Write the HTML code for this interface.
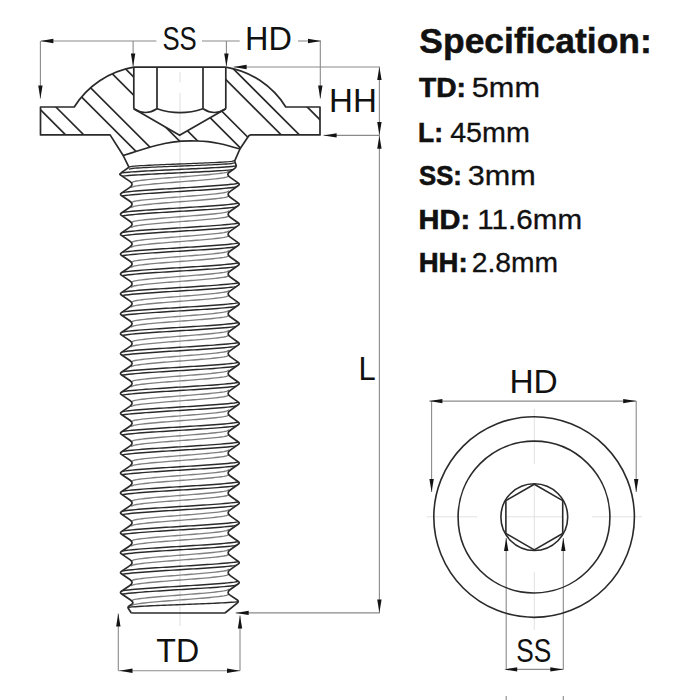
<!DOCTYPE html>
<html><head><meta charset="utf-8"><style>
html,body{margin:0;padding:0;background:#fff;}
body{width:700px;height:700px;overflow:hidden;font-family:"Liberation Sans",sans-serif;}
svg{display:block;}
</style></head><body>
<svg width="700" height="700" viewBox="0 0 700 700">
<rect width="700" height="700" fill="#fff"/>
<g stroke="#e2e2e2" stroke-width="1" fill="none">
<path d="M180,72 V82.5 M180,93 V626" stroke="#dedede"/>
<path d="M534.3,409 V464 M534.3,486 V550 M534.3,572 V630 M427,516.8 H477 M507,516.8 H562 M592,516.8 H642"/>
</g>
<defs><clipPath id="hc"><path clip-rule="evenodd" d="M40.5,107 L74.2,107 A88.2,88.2 0 0 1 133.7,67.1 L225.8,67.1 A87,87 0 0 1 285.8,107  L320,107 L320,134.9 L250.6,134.9 Q248.5,135.2 247.6,137.6 L239.9,149 C238.27,148.53 233.58,147.12 230.1,146.2 C226.62,145.28 222.7,144.27 219,143.5 C215.3,142.73 211.62,142.02 207.9,141.6 C204.18,141.18 201.45,141.05 196.7,141 C191.95,140.95 184.75,140.88 179.4,141.3 C174.05,141.72 169.55,142.52 164.6,143.5 C159.65,144.48 154.5,145.87 149.7,147.2 C144.9,148.53 140.22,150.12 135.8,151.5 C131.38,152.88 125.3,154.83 123.2,155.5 L110.1,134.9 L40.5,134.9 Z M133.8,67.1 L133.8,108.8 L179.6,135.3 L225.8,108.8 L225.8,67.1 Z"/></clipPath></defs>
<path clip-path="url(#hc)" d="M20,89.3 L340,409.3 M20,71.1 L340,391.1 M20,35.4 L340,355.4 M20,17.2 L340,337.2 M20,-18.5 L340,301.5 M20,-36.7 L340,283.3 M20,-72.4 L340,247.6 M20,-90.6 L340,229.4 M20,-126.3 L340,193.7 M20,-144.5 L340,175.5 M20,-180.2 L340,139.8 M20,-198.4 L340,121.6 M20,-234.1 L340,85.9 M20,-252.3 L340,67.7" stroke="#2a2a2a" stroke-width="1.7" fill="none"/>
<g stroke="#2a2a2a" stroke-width="1.7" fill="none" stroke-linejoin="round">
<path d="M40.5,107 L74.2,107 A88.2,88.2 0 0 1 133.7,67.1 L225.8,67.1 A87,87 0 0 1 285.8,107  L320,107 L320,134.9 L250.6,134.9 Q248.5,135.2 247.6,137.6 L239.9,149 C238.27,148.53 233.58,147.12 230.1,146.2 C226.62,145.28 222.7,144.27 219,143.5 C215.3,142.73 211.62,142.02 207.9,141.6 C204.18,141.18 201.45,141.05 196.7,141 C191.95,140.95 184.75,140.88 179.4,141.3 C174.05,141.72 169.55,142.52 164.6,143.5 C159.65,144.48 154.5,145.87 149.7,147.2 C144.9,148.53 140.22,150.12 135.8,151.5 C131.38,152.88 125.3,154.83 123.2,155.5 L110.1,134.9 L40.5,134.9 Z"/>
<path d="M133.8,67.1 L133.8,108.8 M225.8,67.1 L225.8,108.8 M157,67.1 L157,108.8 M203,67.1 L203,108.8"/>
<path d="M133.8,108.8 Q145.4,116.2 157,108.8 Q180,116.6 203,108.8 Q214.4,116.2 225.8,108.8"/>
<path d="M133.8,108.8 L179.6,135.3 L225.8,108.8"/>
<path d="M123.2,155.5 L129,167.3 M239.9,149 L234.6,161.1"/>
</g>
<defs><clipPath id="tc"><path d="M129,167.3 L123.82,170.87 Q121.6,172.4 121,173 L119.84,174.16 Q119.6,174.4 121.36,175.59 L129.89,181.37 Q134.3,184.36 129.89,187.34 L121.36,193.12 Q119.6,194.31 121.36,195.5 L129.89,201.28 Q134.3,204.27 129.89,207.25 L121.36,213.03 Q119.6,214.22 121.36,215.41 L129.89,221.19 Q134.3,224.18 129.89,227.16 L121.36,232.94 Q119.6,234.13 121.36,235.32 L129.89,241.1 Q134.3,244.09 129.89,247.07 L121.36,252.85 Q119.6,254.04 121.36,255.23 L129.89,261.01 Q134.3,264 129.89,266.98 L121.36,272.76 Q119.6,273.95 121.36,275.14 L129.89,280.92 Q134.3,283.9 129.89,286.89 L121.36,292.67 Q119.6,293.86 121.36,295.05 L129.89,300.83 Q134.3,303.81 129.89,306.8 L121.36,312.58 Q119.6,313.77 121.36,314.96 L129.89,320.74 Q134.3,323.72 129.89,326.71 L121.36,332.49 Q119.6,333.68 121.36,334.87 L129.89,340.65 Q134.3,343.63 129.89,346.62 L121.36,352.4 Q119.6,353.59 121.36,354.78 L129.89,360.56 Q134.3,363.55 129.89,366.53 L121.36,372.31 Q119.6,373.5 121.36,374.69 L129.89,380.47 Q134.3,383.45 129.89,386.44 L121.36,392.22 Q119.6,393.41 121.36,394.6 L129.89,400.38 Q134.3,403.36 129.89,406.35 L121.36,412.13 Q119.6,413.32 121.36,414.51 L129.89,420.29 Q134.3,423.28 129.89,426.26 L121.36,432.04 Q119.6,433.23 121.36,434.42 L129.89,440.2 Q134.3,443.19 129.89,446.17 L121.36,451.95 Q119.6,453.14 121.36,454.33 L129.89,460.11 Q134.3,463.09 129.89,466.08 L121.36,471.86 Q119.6,473.05 121.36,474.24 L129.89,480.02 Q134.3,483 129.89,485.99 L121.36,491.77 Q119.6,492.96 121.36,494.15 L129.89,499.93 Q134.3,502.92 129.89,505.9 L121.36,511.68 Q119.6,512.87 121.36,514.06 L129.89,519.84 Q134.3,522.83 129.89,525.81 L121.36,531.59 Q119.6,532.78 121.36,533.97 L129.89,539.75 Q134.3,542.74 129.89,545.72 L121.36,551.5 Q119.6,552.69 121.36,553.88 L129.89,559.66 Q134.3,562.65 129.89,565.63 L121.36,571.41 Q119.6,572.6 121.36,573.79 L129.89,579.57 Q134.3,582.56 129.89,585.54 L121.36,591.32 Q119.6,592.51 121.36,593.7 L129.89,599.48 Q134.3,602.47 132.23,603.86 L129.12,605.94 Q127.4,607.1 128.38,608.58 L131.3,613 L225,613 L237.16,603.05 Q239.3,601.3 237.31,599.98 L229.99,595.15 Q226,592.51 230.23,589.52 L238.41,583.75 Q240.1,582.56 238.41,581.36 L230.23,575.59 Q226,572.6 230.23,569.61 L238.41,563.84 Q240.1,562.65 238.41,561.45 L230.23,555.68 Q226,552.69 230.23,549.7 L238.41,543.93 Q240.1,542.74 238.41,541.54 L230.23,535.77 Q226,532.78 230.23,529.79 L238.41,524.02 Q240.1,522.83 238.41,521.63 L230.23,515.86 Q226,512.87 230.23,509.88 L238.41,504.11 Q240.1,502.92 238.41,501.72 L230.23,495.95 Q226,492.96 230.23,489.97 L238.41,484.2 Q240.1,483 238.41,481.81 L230.23,476.04 Q226,473.05 230.23,470.06 L238.41,464.29 Q240.1,463.09 238.41,461.9 L230.23,456.13 Q226,453.14 230.23,450.15 L238.41,444.38 Q240.1,443.19 238.41,441.99 L230.23,436.22 Q226,433.23 230.23,430.24 L238.41,424.47 Q240.1,423.28 238.41,422.08 L230.23,416.31 Q226,413.32 230.23,410.33 L238.41,404.56 Q240.1,403.36 238.41,402.17 L230.23,396.4 Q226,393.41 230.23,390.42 L238.41,384.65 Q240.1,383.45 238.41,382.26 L230.23,376.49 Q226,373.5 230.23,370.51 L238.41,364.74 Q240.1,363.55 238.41,362.35 L230.23,356.58 Q226,353.59 230.23,350.6 L238.41,344.83 Q240.1,343.63 238.41,342.44 L230.23,336.67 Q226,333.68 230.23,330.69 L238.41,324.92 Q240.1,323.72 238.41,322.53 L230.23,316.76 Q226,313.77 230.23,310.78 L238.41,305.01 Q240.1,303.81 238.41,302.62 L230.23,296.85 Q226,293.86 230.23,290.87 L238.41,285.1 Q240.1,283.9 238.41,282.71 L230.23,276.94 Q226,273.95 230.23,270.96 L238.41,265.19 Q240.1,264 238.41,262.8 L230.23,257.03 Q226,254.04 230.23,251.05 L238.41,245.28 Q240.1,244.09 238.41,242.89 L230.23,237.12 Q226,234.13 230.23,231.14 L238.41,225.37 Q240.1,224.18 238.41,222.98 L230.23,217.21 Q226,214.22 230.23,211.23 L238.41,205.46 Q240.1,204.27 238.41,203.07 L230.23,197.3 Q226,194.31 230.23,191.32 L238.41,185.55 Q240.1,184.36 238.41,183.16 L230.23,177.39 Q226,174.4 229.24,172.21 L233.56,169.29 Q236.8,167.1 236.14,165.3 L234.6,161.1 Z"/></clipPath></defs>
<g clip-path="url(#tc)">
<path d="M131.03,182.83 L133.76,181.57 L136.48,181.04 L139.21,180.63 L141.94,180.27 L144.67,179.96 L147.4,179.67 L150.13,179.4 L152.86,179.14 L155.59,178.89 L158.32,178.66 L161.05,178.43 L163.78,178.2 L166.5,177.98 L169.23,177.77 L171.96,177.56 L174.69,177.35 L177.42,177.14 L180.15,176.93 L182.88,176.72 L185.61,176.51 L188.34,176.3 L191.07,176.09 L193.8,175.87 L196.52,175.65 L199.25,175.43 L201.98,175.2 L204.71,174.96 L207.44,174.72 L210.17,174.46 L212.9,174.19 L215.63,173.9 L218.36,173.58 L221.09,173.23 L223.82,172.82 L226.54,172.29 L229.27,171.03 M131.03,187.73 L133.76,186.47 L136.48,185.94 L139.21,185.53 L141.94,185.17 L144.67,184.86 L147.4,184.57 L150.13,184.3 L152.86,184.04 L155.59,183.79 L158.32,183.56 L161.05,183.33 L163.78,183.1 L166.5,182.88 L169.23,182.67 L171.96,182.46 L174.69,182.25 L177.42,182.04 L180.15,181.83 L182.88,181.62 L185.61,181.41 L188.34,181.2 L191.07,180.99 L193.8,180.77 L196.52,180.55 L199.25,180.33 L201.98,180.1 L204.71,179.86 L207.44,179.62 L210.17,179.36 L212.9,179.09 L215.63,178.8 L218.36,178.48 L221.09,178.13 L223.82,177.72 L226.54,177.19 L229.27,175.93 M131.03,202.74 L133.76,201.48 L136.48,200.95 L139.21,200.54 L141.94,200.18 L144.67,199.87 L147.4,199.58 L150.13,199.31 L152.86,199.05 L155.59,198.8 L158.32,198.57 L161.05,198.34 L163.78,198.11 L166.5,197.89 L169.23,197.68 L171.96,197.47 L174.69,197.26 L177.42,197.05 L180.15,196.84 L182.88,196.63 L185.61,196.42 L188.34,196.21 L191.07,196 L193.8,195.78 L196.52,195.56 L199.25,195.34 L201.98,195.11 L204.71,194.87 L207.44,194.63 L210.17,194.37 L212.9,194.1 L215.63,193.81 L218.36,193.49 L221.09,193.14 L223.82,192.73 L226.54,192.2 L229.27,190.94 M131.03,207.64 L133.76,206.38 L136.48,205.85 L139.21,205.44 L141.94,205.08 L144.67,204.77 L147.4,204.48 L150.13,204.21 L152.86,203.95 L155.59,203.7 L158.32,203.47 L161.05,203.24 L163.78,203.01 L166.5,202.79 L169.23,202.58 L171.96,202.37 L174.69,202.16 L177.42,201.95 L180.15,201.74 L182.88,201.53 L185.61,201.32 L188.34,201.11 L191.07,200.9 L193.8,200.68 L196.52,200.46 L199.25,200.24 L201.98,200.01 L204.71,199.77 L207.44,199.53 L210.17,199.27 L212.9,199 L215.63,198.71 L218.36,198.39 L221.09,198.04 L223.82,197.63 L226.54,197.1 L229.27,195.84 M131.03,222.65 L133.76,221.39 L136.48,220.86 L139.21,220.45 L141.94,220.09 L144.67,219.78 L147.4,219.49 L150.13,219.22 L152.86,218.96 L155.59,218.71 L158.32,218.48 L161.05,218.25 L163.78,218.02 L166.5,217.8 L169.23,217.59 L171.96,217.38 L174.69,217.17 L177.42,216.96 L180.15,216.75 L182.88,216.54 L185.61,216.33 L188.34,216.12 L191.07,215.91 L193.8,215.69 L196.52,215.47 L199.25,215.25 L201.98,215.02 L204.71,214.78 L207.44,214.54 L210.17,214.28 L212.9,214.01 L215.63,213.72 L218.36,213.4 L221.09,213.05 L223.82,212.64 L226.54,212.11 L229.27,210.85 M131.03,227.55 L133.76,226.29 L136.48,225.76 L139.21,225.35 L141.94,224.99 L144.67,224.68 L147.4,224.39 L150.13,224.12 L152.86,223.86 L155.59,223.61 L158.32,223.38 L161.05,223.15 L163.78,222.92 L166.5,222.7 L169.23,222.49 L171.96,222.28 L174.69,222.07 L177.42,221.86 L180.15,221.65 L182.88,221.44 L185.61,221.23 L188.34,221.02 L191.07,220.81 L193.8,220.59 L196.52,220.37 L199.25,220.15 L201.98,219.92 L204.71,219.68 L207.44,219.44 L210.17,219.18 L212.9,218.91 L215.63,218.62 L218.36,218.3 L221.09,217.95 L223.82,217.54 L226.54,217.01 L229.27,215.75 M131.03,242.56 L133.76,241.3 L136.48,240.77 L139.21,240.36 L141.94,240 L144.67,239.69 L147.4,239.4 L150.13,239.13 L152.86,238.87 L155.59,238.62 L158.32,238.39 L161.05,238.16 L163.78,237.93 L166.5,237.71 L169.23,237.5 L171.96,237.29 L174.69,237.08 L177.42,236.87 L180.15,236.66 L182.88,236.45 L185.61,236.24 L188.34,236.03 L191.07,235.82 L193.8,235.6 L196.52,235.38 L199.25,235.16 L201.98,234.93 L204.71,234.69 L207.44,234.45 L210.17,234.19 L212.9,233.92 L215.63,233.63 L218.36,233.31 L221.09,232.96 L223.82,232.55 L226.54,232.02 L229.27,230.76 M131.03,247.46 L133.76,246.2 L136.48,245.67 L139.21,245.26 L141.94,244.9 L144.67,244.59 L147.4,244.3 L150.13,244.03 L152.86,243.77 L155.59,243.52 L158.32,243.29 L161.05,243.06 L163.78,242.83 L166.5,242.61 L169.23,242.4 L171.96,242.19 L174.69,241.98 L177.42,241.77 L180.15,241.56 L182.88,241.35 L185.61,241.14 L188.34,240.93 L191.07,240.72 L193.8,240.5 L196.52,240.28 L199.25,240.06 L201.98,239.83 L204.71,239.59 L207.44,239.35 L210.17,239.09 L212.9,238.82 L215.63,238.53 L218.36,238.21 L221.09,237.86 L223.82,237.45 L226.54,236.92 L229.27,235.66 M131.03,262.47 L133.76,261.21 L136.48,260.68 L139.21,260.27 L141.94,259.91 L144.67,259.6 L147.4,259.31 L150.13,259.04 L152.86,258.78 L155.59,258.53 L158.32,258.3 L161.05,258.07 L163.78,257.84 L166.5,257.62 L169.23,257.41 L171.96,257.2 L174.69,256.99 L177.42,256.78 L180.15,256.57 L182.88,256.36 L185.61,256.15 L188.34,255.94 L191.07,255.73 L193.8,255.51 L196.52,255.29 L199.25,255.07 L201.98,254.84 L204.71,254.6 L207.44,254.36 L210.17,254.1 L212.9,253.83 L215.63,253.54 L218.36,253.22 L221.09,252.87 L223.82,252.46 L226.54,251.93 L229.27,250.67 M131.03,267.37 L133.76,266.11 L136.48,265.58 L139.21,265.17 L141.94,264.81 L144.67,264.5 L147.4,264.21 L150.13,263.94 L152.86,263.68 L155.59,263.43 L158.32,263.2 L161.05,262.97 L163.78,262.74 L166.5,262.52 L169.23,262.31 L171.96,262.1 L174.69,261.89 L177.42,261.68 L180.15,261.47 L182.88,261.26 L185.61,261.05 L188.34,260.84 L191.07,260.63 L193.8,260.41 L196.52,260.19 L199.25,259.97 L201.98,259.74 L204.71,259.5 L207.44,259.26 L210.17,259 L212.9,258.73 L215.63,258.44 L218.36,258.12 L221.09,257.77 L223.82,257.36 L226.54,256.83 L229.27,255.57 M131.03,282.38 L133.76,281.12 L136.48,280.59 L139.21,280.18 L141.94,279.82 L144.67,279.51 L147.4,279.22 L150.13,278.95 L152.86,278.69 L155.59,278.44 L158.32,278.21 L161.05,277.98 L163.78,277.75 L166.5,277.53 L169.23,277.32 L171.96,277.11 L174.69,276.9 L177.42,276.69 L180.15,276.48 L182.88,276.27 L185.61,276.06 L188.34,275.85 L191.07,275.64 L193.8,275.42 L196.52,275.2 L199.25,274.98 L201.98,274.75 L204.71,274.51 L207.44,274.27 L210.17,274.01 L212.9,273.74 L215.63,273.45 L218.36,273.13 L221.09,272.78 L223.82,272.37 L226.54,271.84 L229.27,270.58 M131.03,287.28 L133.76,286.02 L136.48,285.49 L139.21,285.08 L141.94,284.72 L144.67,284.41 L147.4,284.12 L150.13,283.85 L152.86,283.59 L155.59,283.34 L158.32,283.11 L161.05,282.88 L163.78,282.65 L166.5,282.43 L169.23,282.22 L171.96,282.01 L174.69,281.8 L177.42,281.59 L180.15,281.38 L182.88,281.17 L185.61,280.96 L188.34,280.75 L191.07,280.54 L193.8,280.32 L196.52,280.1 L199.25,279.88 L201.98,279.65 L204.71,279.41 L207.44,279.17 L210.17,278.91 L212.9,278.64 L215.63,278.35 L218.36,278.03 L221.09,277.68 L223.82,277.27 L226.54,276.74 L229.27,275.48 M131.03,302.29 L133.76,301.03 L136.48,300.5 L139.21,300.09 L141.94,299.73 L144.67,299.42 L147.4,299.13 L150.13,298.86 L152.86,298.6 L155.59,298.35 L158.32,298.12 L161.05,297.89 L163.78,297.66 L166.5,297.44 L169.23,297.23 L171.96,297.02 L174.69,296.81 L177.42,296.6 L180.15,296.39 L182.88,296.18 L185.61,295.97 L188.34,295.76 L191.07,295.55 L193.8,295.33 L196.52,295.11 L199.25,294.89 L201.98,294.66 L204.71,294.42 L207.44,294.18 L210.17,293.92 L212.9,293.65 L215.63,293.36 L218.36,293.04 L221.09,292.69 L223.82,292.28 L226.54,291.75 L229.27,290.49 M131.03,307.19 L133.76,305.93 L136.48,305.4 L139.21,304.99 L141.94,304.63 L144.67,304.32 L147.4,304.03 L150.13,303.76 L152.86,303.5 L155.59,303.25 L158.32,303.02 L161.05,302.79 L163.78,302.56 L166.5,302.34 L169.23,302.13 L171.96,301.92 L174.69,301.71 L177.42,301.5 L180.15,301.29 L182.88,301.08 L185.61,300.87 L188.34,300.66 L191.07,300.45 L193.8,300.23 L196.52,300.01 L199.25,299.79 L201.98,299.56 L204.71,299.32 L207.44,299.08 L210.17,298.82 L212.9,298.55 L215.63,298.26 L218.36,297.94 L221.09,297.59 L223.82,297.18 L226.54,296.65 L229.27,295.39 M131.03,322.2 L133.76,320.94 L136.48,320.41 L139.21,320 L141.94,319.64 L144.67,319.33 L147.4,319.04 L150.13,318.77 L152.86,318.51 L155.59,318.26 L158.32,318.03 L161.05,317.8 L163.78,317.57 L166.5,317.35 L169.23,317.14 L171.96,316.93 L174.69,316.72 L177.42,316.51 L180.15,316.3 L182.88,316.09 L185.61,315.88 L188.34,315.67 L191.07,315.46 L193.8,315.24 L196.52,315.02 L199.25,314.8 L201.98,314.57 L204.71,314.33 L207.44,314.09 L210.17,313.83 L212.9,313.56 L215.63,313.27 L218.36,312.95 L221.09,312.6 L223.82,312.19 L226.54,311.66 L229.27,310.4 M131.03,327.1 L133.76,325.84 L136.48,325.31 L139.21,324.9 L141.94,324.54 L144.67,324.23 L147.4,323.94 L150.13,323.67 L152.86,323.41 L155.59,323.16 L158.32,322.93 L161.05,322.7 L163.78,322.47 L166.5,322.25 L169.23,322.04 L171.96,321.83 L174.69,321.62 L177.42,321.41 L180.15,321.2 L182.88,320.99 L185.61,320.78 L188.34,320.57 L191.07,320.36 L193.8,320.14 L196.52,319.92 L199.25,319.7 L201.98,319.47 L204.71,319.23 L207.44,318.99 L210.17,318.73 L212.9,318.46 L215.63,318.17 L218.36,317.85 L221.09,317.5 L223.82,317.09 L226.54,316.56 L229.27,315.3 M131.03,342.11 L133.76,340.85 L136.48,340.32 L139.21,339.91 L141.94,339.55 L144.67,339.24 L147.4,338.95 L150.13,338.68 L152.86,338.42 L155.59,338.17 L158.32,337.94 L161.05,337.71 L163.78,337.48 L166.5,337.26 L169.23,337.05 L171.96,336.84 L174.69,336.63 L177.42,336.42 L180.15,336.21 L182.88,336 L185.61,335.79 L188.34,335.58 L191.07,335.37 L193.8,335.15 L196.52,334.93 L199.25,334.71 L201.98,334.48 L204.71,334.24 L207.44,334 L210.17,333.74 L212.9,333.47 L215.63,333.18 L218.36,332.86 L221.09,332.51 L223.82,332.1 L226.54,331.57 L229.27,330.31 M131.03,347.01 L133.76,345.75 L136.48,345.22 L139.21,344.81 L141.94,344.45 L144.67,344.14 L147.4,343.85 L150.13,343.58 L152.86,343.32 L155.59,343.07 L158.32,342.84 L161.05,342.61 L163.78,342.38 L166.5,342.16 L169.23,341.95 L171.96,341.74 L174.69,341.53 L177.42,341.32 L180.15,341.11 L182.88,340.9 L185.61,340.69 L188.34,340.48 L191.07,340.27 L193.8,340.05 L196.52,339.83 L199.25,339.61 L201.98,339.38 L204.71,339.14 L207.44,338.9 L210.17,338.64 L212.9,338.37 L215.63,338.08 L218.36,337.76 L221.09,337.41 L223.82,337 L226.54,336.47 L229.27,335.21 M131.03,362.02 L133.76,360.76 L136.48,360.23 L139.21,359.82 L141.94,359.46 L144.67,359.15 L147.4,358.86 L150.13,358.59 L152.86,358.33 L155.59,358.08 L158.32,357.85 L161.05,357.62 L163.78,357.39 L166.5,357.17 L169.23,356.96 L171.96,356.75 L174.69,356.54 L177.42,356.33 L180.15,356.12 L182.88,355.91 L185.61,355.7 L188.34,355.49 L191.07,355.28 L193.8,355.06 L196.52,354.84 L199.25,354.62 L201.98,354.39 L204.71,354.15 L207.44,353.91 L210.17,353.65 L212.9,353.38 L215.63,353.09 L218.36,352.77 L221.09,352.42 L223.82,352.01 L226.54,351.48 L229.27,350.22 M131.03,366.92 L133.76,365.66 L136.48,365.13 L139.21,364.72 L141.94,364.36 L144.67,364.05 L147.4,363.76 L150.13,363.49 L152.86,363.23 L155.59,362.98 L158.32,362.75 L161.05,362.52 L163.78,362.29 L166.5,362.07 L169.23,361.86 L171.96,361.65 L174.69,361.44 L177.42,361.23 L180.15,361.02 L182.88,360.81 L185.61,360.6 L188.34,360.39 L191.07,360.18 L193.8,359.96 L196.52,359.74 L199.25,359.52 L201.98,359.29 L204.71,359.05 L207.44,358.81 L210.17,358.55 L212.9,358.28 L215.63,357.99 L218.36,357.67 L221.09,357.32 L223.82,356.91 L226.54,356.38 L229.27,355.12 M131.03,381.93 L133.76,380.67 L136.48,380.14 L139.21,379.73 L141.94,379.37 L144.67,379.06 L147.4,378.77 L150.13,378.5 L152.86,378.24 L155.59,377.99 L158.32,377.76 L161.05,377.53 L163.78,377.3 L166.5,377.08 L169.23,376.87 L171.96,376.66 L174.69,376.45 L177.42,376.24 L180.15,376.03 L182.88,375.82 L185.61,375.61 L188.34,375.4 L191.07,375.19 L193.8,374.97 L196.52,374.75 L199.25,374.53 L201.98,374.3 L204.71,374.06 L207.44,373.82 L210.17,373.56 L212.9,373.29 L215.63,373 L218.36,372.68 L221.09,372.33 L223.82,371.92 L226.54,371.39 L229.27,370.13 M131.03,386.83 L133.76,385.57 L136.48,385.04 L139.21,384.63 L141.94,384.27 L144.67,383.96 L147.4,383.67 L150.13,383.4 L152.86,383.14 L155.59,382.89 L158.32,382.66 L161.05,382.43 L163.78,382.2 L166.5,381.98 L169.23,381.77 L171.96,381.56 L174.69,381.35 L177.42,381.14 L180.15,380.93 L182.88,380.72 L185.61,380.51 L188.34,380.3 L191.07,380.09 L193.8,379.87 L196.52,379.65 L199.25,379.43 L201.98,379.2 L204.71,378.96 L207.44,378.72 L210.17,378.46 L212.9,378.19 L215.63,377.9 L218.36,377.58 L221.09,377.23 L223.82,376.82 L226.54,376.29 L229.27,375.03 M131.03,401.84 L133.76,400.58 L136.48,400.05 L139.21,399.64 L141.94,399.28 L144.67,398.97 L147.4,398.68 L150.13,398.41 L152.86,398.15 L155.59,397.9 L158.32,397.67 L161.05,397.44 L163.78,397.21 L166.5,396.99 L169.23,396.78 L171.96,396.57 L174.69,396.36 L177.42,396.15 L180.15,395.94 L182.88,395.73 L185.61,395.52 L188.34,395.31 L191.07,395.1 L193.8,394.88 L196.52,394.66 L199.25,394.44 L201.98,394.21 L204.71,393.97 L207.44,393.73 L210.17,393.47 L212.9,393.2 L215.63,392.91 L218.36,392.59 L221.09,392.24 L223.82,391.83 L226.54,391.3 L229.27,390.04 M131.03,406.74 L133.76,405.48 L136.48,404.95 L139.21,404.54 L141.94,404.18 L144.67,403.87 L147.4,403.58 L150.13,403.31 L152.86,403.05 L155.59,402.8 L158.32,402.57 L161.05,402.34 L163.78,402.11 L166.5,401.89 L169.23,401.68 L171.96,401.47 L174.69,401.26 L177.42,401.05 L180.15,400.84 L182.88,400.63 L185.61,400.42 L188.34,400.21 L191.07,400 L193.8,399.78 L196.52,399.56 L199.25,399.34 L201.98,399.11 L204.71,398.87 L207.44,398.63 L210.17,398.37 L212.9,398.1 L215.63,397.81 L218.36,397.49 L221.09,397.14 L223.82,396.73 L226.54,396.2 L229.27,394.94 M131.03,421.75 L133.76,420.49 L136.48,419.96 L139.21,419.55 L141.94,419.19 L144.67,418.88 L147.4,418.59 L150.13,418.32 L152.86,418.06 L155.59,417.81 L158.32,417.58 L161.05,417.35 L163.78,417.12 L166.5,416.9 L169.23,416.69 L171.96,416.48 L174.69,416.27 L177.42,416.06 L180.15,415.85 L182.88,415.64 L185.61,415.43 L188.34,415.22 L191.07,415.01 L193.8,414.79 L196.52,414.57 L199.25,414.35 L201.98,414.12 L204.71,413.88 L207.44,413.64 L210.17,413.38 L212.9,413.11 L215.63,412.82 L218.36,412.5 L221.09,412.15 L223.82,411.74 L226.54,411.21 L229.27,409.95 M131.03,426.65 L133.76,425.39 L136.48,424.86 L139.21,424.45 L141.94,424.09 L144.67,423.78 L147.4,423.49 L150.13,423.22 L152.86,422.96 L155.59,422.71 L158.32,422.48 L161.05,422.25 L163.78,422.02 L166.5,421.8 L169.23,421.59 L171.96,421.38 L174.69,421.17 L177.42,420.96 L180.15,420.75 L182.88,420.54 L185.61,420.33 L188.34,420.12 L191.07,419.91 L193.8,419.69 L196.52,419.47 L199.25,419.25 L201.98,419.02 L204.71,418.78 L207.44,418.54 L210.17,418.28 L212.9,418.01 L215.63,417.72 L218.36,417.4 L221.09,417.05 L223.82,416.64 L226.54,416.11 L229.27,414.85 M131.03,441.66 L133.76,440.4 L136.48,439.87 L139.21,439.46 L141.94,439.1 L144.67,438.79 L147.4,438.5 L150.13,438.23 L152.86,437.97 L155.59,437.72 L158.32,437.49 L161.05,437.26 L163.78,437.03 L166.5,436.81 L169.23,436.6 L171.96,436.39 L174.69,436.18 L177.42,435.97 L180.15,435.76 L182.88,435.55 L185.61,435.34 L188.34,435.13 L191.07,434.92 L193.8,434.7 L196.52,434.48 L199.25,434.26 L201.98,434.03 L204.71,433.79 L207.44,433.55 L210.17,433.29 L212.9,433.02 L215.63,432.73 L218.36,432.41 L221.09,432.06 L223.82,431.65 L226.54,431.12 L229.27,429.86 M131.03,446.56 L133.76,445.3 L136.48,444.77 L139.21,444.36 L141.94,444 L144.67,443.69 L147.4,443.4 L150.13,443.13 L152.86,442.87 L155.59,442.62 L158.32,442.39 L161.05,442.16 L163.78,441.93 L166.5,441.71 L169.23,441.5 L171.96,441.29 L174.69,441.08 L177.42,440.87 L180.15,440.66 L182.88,440.45 L185.61,440.24 L188.34,440.03 L191.07,439.82 L193.8,439.6 L196.52,439.38 L199.25,439.16 L201.98,438.93 L204.71,438.69 L207.44,438.45 L210.17,438.19 L212.9,437.92 L215.63,437.63 L218.36,437.31 L221.09,436.96 L223.82,436.55 L226.54,436.02 L229.27,434.76 M131.03,461.57 L133.76,460.31 L136.48,459.78 L139.21,459.37 L141.94,459.01 L144.67,458.7 L147.4,458.41 L150.13,458.14 L152.86,457.88 L155.59,457.63 L158.32,457.4 L161.05,457.17 L163.78,456.94 L166.5,456.72 L169.23,456.51 L171.96,456.3 L174.69,456.09 L177.42,455.88 L180.15,455.67 L182.88,455.46 L185.61,455.25 L188.34,455.04 L191.07,454.83 L193.8,454.61 L196.52,454.39 L199.25,454.17 L201.98,453.94 L204.71,453.7 L207.44,453.46 L210.17,453.2 L212.9,452.93 L215.63,452.64 L218.36,452.32 L221.09,451.97 L223.82,451.56 L226.54,451.03 L229.27,449.77 M131.03,466.47 L133.76,465.21 L136.48,464.68 L139.21,464.27 L141.94,463.91 L144.67,463.6 L147.4,463.31 L150.13,463.04 L152.86,462.78 L155.59,462.53 L158.32,462.3 L161.05,462.07 L163.78,461.84 L166.5,461.62 L169.23,461.41 L171.96,461.2 L174.69,460.99 L177.42,460.78 L180.15,460.57 L182.88,460.36 L185.61,460.15 L188.34,459.94 L191.07,459.73 L193.8,459.51 L196.52,459.29 L199.25,459.07 L201.98,458.84 L204.71,458.6 L207.44,458.36 L210.17,458.1 L212.9,457.83 L215.63,457.54 L218.36,457.22 L221.09,456.87 L223.82,456.46 L226.54,455.93 L229.27,454.67 M131.03,481.48 L133.76,480.22 L136.48,479.69 L139.21,479.28 L141.94,478.92 L144.67,478.61 L147.4,478.32 L150.13,478.05 L152.86,477.79 L155.59,477.54 L158.32,477.31 L161.05,477.08 L163.78,476.85 L166.5,476.63 L169.23,476.42 L171.96,476.21 L174.69,476 L177.42,475.79 L180.15,475.58 L182.88,475.37 L185.61,475.16 L188.34,474.95 L191.07,474.74 L193.8,474.52 L196.52,474.3 L199.25,474.08 L201.98,473.85 L204.71,473.61 L207.44,473.37 L210.17,473.11 L212.9,472.84 L215.63,472.55 L218.36,472.23 L221.09,471.88 L223.82,471.47 L226.54,470.94 L229.27,469.68 M131.03,486.38 L133.76,485.12 L136.48,484.59 L139.21,484.18 L141.94,483.82 L144.67,483.51 L147.4,483.22 L150.13,482.95 L152.86,482.69 L155.59,482.44 L158.32,482.21 L161.05,481.98 L163.78,481.75 L166.5,481.53 L169.23,481.32 L171.96,481.11 L174.69,480.9 L177.42,480.69 L180.15,480.48 L182.88,480.27 L185.61,480.06 L188.34,479.85 L191.07,479.64 L193.8,479.42 L196.52,479.2 L199.25,478.98 L201.98,478.75 L204.71,478.51 L207.44,478.27 L210.17,478.01 L212.9,477.74 L215.63,477.45 L218.36,477.13 L221.09,476.78 L223.82,476.37 L226.54,475.84 L229.27,474.58 M131.03,501.39 L133.76,500.13 L136.48,499.6 L139.21,499.19 L141.94,498.83 L144.67,498.52 L147.4,498.23 L150.13,497.96 L152.86,497.7 L155.59,497.45 L158.32,497.22 L161.05,496.99 L163.78,496.76 L166.5,496.54 L169.23,496.33 L171.96,496.12 L174.69,495.91 L177.42,495.7 L180.15,495.49 L182.88,495.28 L185.61,495.07 L188.34,494.86 L191.07,494.65 L193.8,494.43 L196.52,494.21 L199.25,493.99 L201.98,493.76 L204.71,493.52 L207.44,493.28 L210.17,493.02 L212.9,492.75 L215.63,492.46 L218.36,492.14 L221.09,491.79 L223.82,491.38 L226.54,490.85 L229.27,489.59 M131.03,506.29 L133.76,505.03 L136.48,504.5 L139.21,504.09 L141.94,503.73 L144.67,503.42 L147.4,503.13 L150.13,502.86 L152.86,502.6 L155.59,502.35 L158.32,502.12 L161.05,501.89 L163.78,501.66 L166.5,501.44 L169.23,501.23 L171.96,501.02 L174.69,500.81 L177.42,500.6 L180.15,500.39 L182.88,500.18 L185.61,499.97 L188.34,499.76 L191.07,499.55 L193.8,499.33 L196.52,499.11 L199.25,498.89 L201.98,498.66 L204.71,498.42 L207.44,498.18 L210.17,497.92 L212.9,497.65 L215.63,497.36 L218.36,497.04 L221.09,496.69 L223.82,496.28 L226.54,495.75 L229.27,494.49 M131.03,521.3 L133.76,520.04 L136.48,519.51 L139.21,519.1 L141.94,518.74 L144.67,518.43 L147.4,518.14 L150.13,517.87 L152.86,517.61 L155.59,517.36 L158.32,517.13 L161.05,516.9 L163.78,516.67 L166.5,516.45 L169.23,516.24 L171.96,516.03 L174.69,515.82 L177.42,515.61 L180.15,515.4 L182.88,515.19 L185.61,514.98 L188.34,514.77 L191.07,514.56 L193.8,514.34 L196.52,514.12 L199.25,513.9 L201.98,513.67 L204.71,513.43 L207.44,513.19 L210.17,512.93 L212.9,512.66 L215.63,512.37 L218.36,512.05 L221.09,511.7 L223.82,511.29 L226.54,510.76 L229.27,509.5 M131.03,526.2 L133.76,524.94 L136.48,524.41 L139.21,524 L141.94,523.64 L144.67,523.33 L147.4,523.04 L150.13,522.77 L152.86,522.51 L155.59,522.26 L158.32,522.03 L161.05,521.8 L163.78,521.57 L166.5,521.35 L169.23,521.14 L171.96,520.93 L174.69,520.72 L177.42,520.51 L180.15,520.3 L182.88,520.09 L185.61,519.88 L188.34,519.67 L191.07,519.46 L193.8,519.24 L196.52,519.02 L199.25,518.8 L201.98,518.57 L204.71,518.33 L207.44,518.09 L210.17,517.83 L212.9,517.56 L215.63,517.27 L218.36,516.95 L221.09,516.6 L223.82,516.19 L226.54,515.66 L229.27,514.4 M131.03,541.21 L133.76,539.95 L136.48,539.42 L139.21,539.01 L141.94,538.65 L144.67,538.34 L147.4,538.05 L150.13,537.78 L152.86,537.52 L155.59,537.27 L158.32,537.04 L161.05,536.81 L163.78,536.58 L166.5,536.36 L169.23,536.15 L171.96,535.94 L174.69,535.73 L177.42,535.52 L180.15,535.31 L182.88,535.1 L185.61,534.89 L188.34,534.68 L191.07,534.47 L193.8,534.25 L196.52,534.03 L199.25,533.81 L201.98,533.58 L204.71,533.34 L207.44,533.1 L210.17,532.84 L212.9,532.57 L215.63,532.28 L218.36,531.96 L221.09,531.61 L223.82,531.2 L226.54,530.67 L229.27,529.41 M131.03,546.11 L133.76,544.85 L136.48,544.32 L139.21,543.91 L141.94,543.55 L144.67,543.24 L147.4,542.95 L150.13,542.68 L152.86,542.42 L155.59,542.17 L158.32,541.94 L161.05,541.71 L163.78,541.48 L166.5,541.26 L169.23,541.05 L171.96,540.84 L174.69,540.63 L177.42,540.42 L180.15,540.21 L182.88,540 L185.61,539.79 L188.34,539.58 L191.07,539.37 L193.8,539.15 L196.52,538.93 L199.25,538.71 L201.98,538.48 L204.71,538.24 L207.44,538 L210.17,537.74 L212.9,537.47 L215.63,537.18 L218.36,536.86 L221.09,536.51 L223.82,536.1 L226.54,535.57 L229.27,534.31 M131.03,561.12 L133.76,559.86 L136.48,559.33 L139.21,558.92 L141.94,558.56 L144.67,558.25 L147.4,557.96 L150.13,557.69 L152.86,557.43 L155.59,557.18 L158.32,556.95 L161.05,556.72 L163.78,556.49 L166.5,556.27 L169.23,556.06 L171.96,555.85 L174.69,555.64 L177.42,555.43 L180.15,555.22 L182.88,555.01 L185.61,554.8 L188.34,554.59 L191.07,554.38 L193.8,554.16 L196.52,553.94 L199.25,553.72 L201.98,553.49 L204.71,553.25 L207.44,553.01 L210.17,552.75 L212.9,552.48 L215.63,552.19 L218.36,551.87 L221.09,551.52 L223.82,551.11 L226.54,550.58 L229.27,549.32 M131.03,566.02 L133.76,564.76 L136.48,564.23 L139.21,563.82 L141.94,563.46 L144.67,563.15 L147.4,562.86 L150.13,562.59 L152.86,562.33 L155.59,562.08 L158.32,561.85 L161.05,561.62 L163.78,561.39 L166.5,561.17 L169.23,560.96 L171.96,560.75 L174.69,560.54 L177.42,560.33 L180.15,560.12 L182.88,559.91 L185.61,559.7 L188.34,559.49 L191.07,559.28 L193.8,559.06 L196.52,558.84 L199.25,558.62 L201.98,558.39 L204.71,558.15 L207.44,557.91 L210.17,557.65 L212.9,557.38 L215.63,557.09 L218.36,556.77 L221.09,556.42 L223.82,556.01 L226.54,555.48 L229.27,554.22 M131.03,581.03 L133.76,579.77 L136.48,579.24 L139.21,578.83 L141.94,578.47 L144.67,578.16 L147.4,577.87 L150.13,577.6 L152.86,577.34 L155.59,577.09 L158.32,576.86 L161.05,576.63 L163.78,576.4 L166.5,576.18 L169.23,575.97 L171.96,575.76 L174.69,575.55 L177.42,575.34 L180.15,575.13 L182.88,574.92 L185.61,574.71 L188.34,574.5 L191.07,574.29 L193.8,574.07 L196.52,573.85 L199.25,573.63 L201.98,573.4 L204.71,573.16 L207.44,572.92 L210.17,572.66 L212.9,572.39 L215.63,572.1 L218.36,571.78 L221.09,571.43 L223.82,571.02 L226.54,570.49 L229.27,569.23 M131.03,585.93 L133.76,584.67 L136.48,584.14 L139.21,583.73 L141.94,583.37 L144.67,583.06 L147.4,582.77 L150.13,582.5 L152.86,582.24 L155.59,581.99 L158.32,581.76 L161.05,581.53 L163.78,581.3 L166.5,581.08 L169.23,580.87 L171.96,580.66 L174.69,580.45 L177.42,580.24 L180.15,580.03 L182.88,579.82 L185.61,579.61 L188.34,579.4 L191.07,579.19 L193.8,578.97 L196.52,578.75 L199.25,578.53 L201.98,578.3 L204.71,578.06 L207.44,577.82 L210.17,577.56 L212.9,577.29 L215.63,577 L218.36,576.68 L221.09,576.33 L223.82,575.92 L226.54,575.39 L229.27,574.13 M131.03,600.94 L133.76,599.68 L136.48,599.15 L139.21,598.74 L141.94,598.38 L144.67,598.07 L147.4,597.78 L150.13,597.51 L152.86,597.25 L155.59,597 L158.32,596.77 L161.05,596.54 L163.78,596.31 L166.5,596.09 L169.23,595.88 L171.96,595.67 L174.69,595.46 L177.42,595.25 L180.15,595.04 L182.88,594.83 L185.61,594.62 L188.34,594.41 L191.07,594.2 L193.8,593.98 L196.52,593.76 L199.25,593.54 L201.98,593.31 L204.71,593.07 L207.44,592.83 L210.17,592.57 L212.9,592.3 L215.63,592.01 L218.36,591.69 L221.09,591.34 L223.82,590.93 L226.54,590.4 L229.27,589.14 M131.03,605.84 L133.76,604.58 L136.48,604.05 L139.21,603.64 L141.94,603.28 L144.67,602.97 L147.4,602.68 L150.13,602.41 L152.86,602.15 L155.59,601.9 L158.32,601.67 L161.05,601.44 L163.78,601.21 L166.5,600.99 L169.23,600.78 L171.96,600.57 L174.69,600.36 L177.42,600.15 L180.15,599.94 L182.88,599.73 L185.61,599.52 L188.34,599.31 L191.07,599.1 L193.8,598.88 L196.52,598.66 L199.25,598.44 L201.98,598.21 L204.71,597.97 L207.44,597.73 L210.17,597.47 L212.9,597.2 L215.63,596.91 L218.36,596.59 L221.09,596.24 L223.82,595.83 L226.54,595.3 L229.27,594.04" stroke="#808080" stroke-width="1.35" fill="none"/>
<path d="M118.5,173.78 L121.83,172.85 L125.17,172.47 L128.51,172.16 L131.84,171.9 L135.18,171.67 L138.52,171.46 L141.85,171.26 L145.19,171.07 L148.52,170.89 L151.86,170.72 L155.2,170.55 L158.53,170.39 L161.87,170.23 L165.21,170.07 L168.54,169.91 L171.88,169.76 L175.21,169.6 L178.55,169.45 L181.89,169.3 L185.22,169.14 L188.56,168.99 L191.89,168.83 L195.23,168.67 L198.57,168.51 L201.9,168.35 L205.24,168.18 L208.58,168.01 L211.91,167.83 L215.25,167.64 L218.58,167.44 L221.92,167.23 L225.26,167 L228.59,166.74 L231.93,166.43 L235.27,166.05 L238.6,165.12 M118.5,177.18 L121.83,176.25 L125.17,175.87 L128.51,175.56 L131.84,175.3 L135.18,175.07 L138.52,174.86 L141.85,174.66 L145.19,174.47 L148.52,174.29 L151.86,174.12 L155.2,173.95 L158.53,173.79 L161.87,173.63 L165.21,173.47 L168.54,173.31 L171.88,173.16 L175.21,173 L178.55,172.85 L181.89,172.7 L185.22,172.54 L188.56,172.39 L191.89,172.23 L195.23,172.07 L198.57,171.91 L201.9,171.75 L205.24,171.58 L208.58,171.41 L211.91,171.23 L215.25,171.04 L218.58,170.84 L221.92,170.63 L225.26,170.4 L228.59,170.14 L231.93,169.83 L235.27,169.45 L238.6,168.52 M118.46,193.93 L121.87,192.67 L125.28,192.14 L128.69,191.73 L132.1,191.38 L135.51,191.06 L138.92,190.77 L142.33,190.5 L145.74,190.24 L149.15,190 L152.56,189.76 L155.98,189.53 L159.39,189.31 L162.8,189.09 L166.21,188.87 L169.62,188.66 L173.03,188.45 L176.44,188.24 L179.85,188.03 L183.26,187.82 L186.67,187.61 L190.08,187.4 L193.49,187.19 L196.9,186.98 L200.31,186.76 L203.72,186.53 L207.14,186.3 L210.55,186.07 L213.96,185.82 L217.37,185.56 L220.78,185.29 L224.19,185 L227.6,184.69 L231.01,184.33 L234.42,183.92 L237.83,183.39 L241.24,182.13 M118.46,197.33 L121.87,196.07 L125.28,195.54 L128.69,195.13 L132.1,194.78 L135.51,194.46 L138.92,194.17 L142.33,193.9 L145.74,193.64 L149.15,193.4 L152.56,193.16 L155.98,192.93 L159.39,192.71 L162.8,192.49 L166.21,192.27 L169.62,192.06 L173.03,191.85 L176.44,191.64 L179.85,191.43 L183.26,191.22 L186.67,191.01 L190.08,190.8 L193.49,190.59 L196.9,190.38 L200.31,190.16 L203.72,189.93 L207.14,189.7 L210.55,189.47 L213.96,189.22 L217.37,188.96 L220.78,188.69 L224.19,188.4 L227.6,188.09 L231.01,187.73 L234.42,187.32 L237.83,186.79 L241.24,185.53 M118.46,213.84 L121.87,212.58 L125.28,212.05 L128.69,211.64 L132.1,211.29 L135.51,210.97 L138.92,210.68 L142.33,210.41 L145.74,210.15 L149.15,209.91 L152.56,209.67 L155.98,209.44 L159.39,209.22 L162.8,209 L166.21,208.78 L169.62,208.57 L173.03,208.36 L176.44,208.15 L179.85,207.94 L183.26,207.73 L186.67,207.52 L190.08,207.31 L193.49,207.1 L196.9,206.89 L200.31,206.67 L203.72,206.44 L207.14,206.21 L210.55,205.98 L213.96,205.73 L217.37,205.47 L220.78,205.2 L224.19,204.91 L227.6,204.6 L231.01,204.24 L234.42,203.83 L237.83,203.3 L241.24,202.04 M118.46,217.24 L121.87,215.98 L125.28,215.45 L128.69,215.04 L132.1,214.69 L135.51,214.37 L138.92,214.08 L142.33,213.81 L145.74,213.55 L149.15,213.31 L152.56,213.07 L155.98,212.84 L159.39,212.62 L162.8,212.4 L166.21,212.18 L169.62,211.97 L173.03,211.76 L176.44,211.55 L179.85,211.34 L183.26,211.13 L186.67,210.92 L190.08,210.71 L193.49,210.5 L196.9,210.29 L200.31,210.07 L203.72,209.84 L207.14,209.61 L210.55,209.38 L213.96,209.13 L217.37,208.87 L220.78,208.6 L224.19,208.31 L227.6,208 L231.01,207.64 L234.42,207.23 L237.83,206.7 L241.24,205.44 M118.46,233.75 L121.87,232.49 L125.28,231.96 L128.69,231.55 L132.1,231.2 L135.51,230.88 L138.92,230.59 L142.33,230.32 L145.74,230.06 L149.15,229.82 L152.56,229.58 L155.98,229.35 L159.39,229.13 L162.8,228.91 L166.21,228.69 L169.62,228.48 L173.03,228.27 L176.44,228.06 L179.85,227.85 L183.26,227.64 L186.67,227.43 L190.08,227.22 L193.49,227.01 L196.9,226.8 L200.31,226.58 L203.72,226.35 L207.14,226.12 L210.55,225.89 L213.96,225.64 L217.37,225.38 L220.78,225.11 L224.19,224.82 L227.6,224.51 L231.01,224.15 L234.42,223.74 L237.83,223.21 L241.24,221.95 M118.46,237.15 L121.87,235.89 L125.28,235.36 L128.69,234.95 L132.1,234.6 L135.51,234.28 L138.92,233.99 L142.33,233.72 L145.74,233.46 L149.15,233.22 L152.56,232.98 L155.98,232.75 L159.39,232.53 L162.8,232.31 L166.21,232.09 L169.62,231.88 L173.03,231.67 L176.44,231.46 L179.85,231.25 L183.26,231.04 L186.67,230.83 L190.08,230.62 L193.49,230.41 L196.9,230.2 L200.31,229.98 L203.72,229.75 L207.14,229.52 L210.55,229.29 L213.96,229.04 L217.37,228.78 L220.78,228.51 L224.19,228.22 L227.6,227.91 L231.01,227.55 L234.42,227.14 L237.83,226.61 L241.24,225.35 M118.46,253.66 L121.87,252.4 L125.28,251.87 L128.69,251.46 L132.1,251.11 L135.51,250.79 L138.92,250.5 L142.33,250.23 L145.74,249.97 L149.15,249.73 L152.56,249.49 L155.98,249.26 L159.39,249.04 L162.8,248.82 L166.21,248.6 L169.62,248.39 L173.03,248.18 L176.44,247.97 L179.85,247.76 L183.26,247.55 L186.67,247.34 L190.08,247.13 L193.49,246.92 L196.9,246.71 L200.31,246.49 L203.72,246.26 L207.14,246.03 L210.55,245.8 L213.96,245.55 L217.37,245.29 L220.78,245.02 L224.19,244.73 L227.6,244.42 L231.01,244.06 L234.42,243.65 L237.83,243.12 L241.24,241.86 M118.46,257.06 L121.87,255.8 L125.28,255.27 L128.69,254.86 L132.1,254.51 L135.51,254.19 L138.92,253.9 L142.33,253.63 L145.74,253.37 L149.15,253.13 L152.56,252.89 L155.98,252.66 L159.39,252.44 L162.8,252.22 L166.21,252 L169.62,251.79 L173.03,251.58 L176.44,251.37 L179.85,251.16 L183.26,250.95 L186.67,250.74 L190.08,250.53 L193.49,250.32 L196.9,250.11 L200.31,249.89 L203.72,249.66 L207.14,249.43 L210.55,249.2 L213.96,248.95 L217.37,248.69 L220.78,248.42 L224.19,248.13 L227.6,247.82 L231.01,247.46 L234.42,247.05 L237.83,246.52 L241.24,245.26 M118.46,273.57 L121.87,272.31 L125.28,271.78 L128.69,271.37 L132.1,271.02 L135.51,270.7 L138.92,270.41 L142.33,270.14 L145.74,269.88 L149.15,269.64 L152.56,269.4 L155.98,269.17 L159.39,268.95 L162.8,268.73 L166.21,268.51 L169.62,268.3 L173.03,268.09 L176.44,267.88 L179.85,267.67 L183.26,267.46 L186.67,267.25 L190.08,267.04 L193.49,266.83 L196.9,266.62 L200.31,266.4 L203.72,266.17 L207.14,265.94 L210.55,265.71 L213.96,265.46 L217.37,265.2 L220.78,264.93 L224.19,264.64 L227.6,264.33 L231.01,263.97 L234.42,263.56 L237.83,263.03 L241.24,261.77 M118.46,276.97 L121.87,275.71 L125.28,275.18 L128.69,274.77 L132.1,274.42 L135.51,274.1 L138.92,273.81 L142.33,273.54 L145.74,273.28 L149.15,273.04 L152.56,272.8 L155.98,272.57 L159.39,272.35 L162.8,272.13 L166.21,271.91 L169.62,271.7 L173.03,271.49 L176.44,271.28 L179.85,271.07 L183.26,270.86 L186.67,270.65 L190.08,270.44 L193.49,270.23 L196.9,270.02 L200.31,269.8 L203.72,269.57 L207.14,269.34 L210.55,269.11 L213.96,268.86 L217.37,268.6 L220.78,268.33 L224.19,268.04 L227.6,267.73 L231.01,267.37 L234.42,266.96 L237.83,266.43 L241.24,265.17 M118.46,293.48 L121.87,292.22 L125.28,291.69 L128.69,291.28 L132.1,290.93 L135.51,290.61 L138.92,290.32 L142.33,290.05 L145.74,289.79 L149.15,289.55 L152.56,289.31 L155.98,289.08 L159.39,288.86 L162.8,288.64 L166.21,288.42 L169.62,288.21 L173.03,288 L176.44,287.79 L179.85,287.58 L183.26,287.37 L186.67,287.16 L190.08,286.95 L193.49,286.74 L196.9,286.53 L200.31,286.31 L203.72,286.08 L207.14,285.85 L210.55,285.62 L213.96,285.37 L217.37,285.11 L220.78,284.84 L224.19,284.55 L227.6,284.24 L231.01,283.88 L234.42,283.47 L237.83,282.94 L241.24,281.68 M118.46,296.88 L121.87,295.62 L125.28,295.09 L128.69,294.68 L132.1,294.33 L135.51,294.01 L138.92,293.72 L142.33,293.45 L145.74,293.19 L149.15,292.95 L152.56,292.71 L155.98,292.48 L159.39,292.26 L162.8,292.04 L166.21,291.82 L169.62,291.61 L173.03,291.4 L176.44,291.19 L179.85,290.98 L183.26,290.77 L186.67,290.56 L190.08,290.35 L193.49,290.14 L196.9,289.93 L200.31,289.71 L203.72,289.48 L207.14,289.25 L210.55,289.02 L213.96,288.77 L217.37,288.51 L220.78,288.24 L224.19,287.95 L227.6,287.64 L231.01,287.28 L234.42,286.87 L237.83,286.34 L241.24,285.08 M118.46,313.39 L121.87,312.13 L125.28,311.6 L128.69,311.19 L132.1,310.84 L135.51,310.52 L138.92,310.23 L142.33,309.96 L145.74,309.7 L149.15,309.46 L152.56,309.22 L155.98,308.99 L159.39,308.77 L162.8,308.55 L166.21,308.33 L169.62,308.12 L173.03,307.91 L176.44,307.7 L179.85,307.49 L183.26,307.28 L186.67,307.07 L190.08,306.86 L193.49,306.65 L196.9,306.44 L200.31,306.22 L203.72,305.99 L207.14,305.76 L210.55,305.53 L213.96,305.28 L217.37,305.02 L220.78,304.75 L224.19,304.46 L227.6,304.15 L231.01,303.79 L234.42,303.38 L237.83,302.85 L241.24,301.59 M118.46,316.79 L121.87,315.53 L125.28,315 L128.69,314.59 L132.1,314.24 L135.51,313.92 L138.92,313.63 L142.33,313.36 L145.74,313.1 L149.15,312.86 L152.56,312.62 L155.98,312.39 L159.39,312.17 L162.8,311.95 L166.21,311.73 L169.62,311.52 L173.03,311.31 L176.44,311.1 L179.85,310.89 L183.26,310.68 L186.67,310.47 L190.08,310.26 L193.49,310.05 L196.9,309.84 L200.31,309.62 L203.72,309.39 L207.14,309.16 L210.55,308.93 L213.96,308.68 L217.37,308.42 L220.78,308.15 L224.19,307.86 L227.6,307.55 L231.01,307.19 L234.42,306.78 L237.83,306.25 L241.24,304.99 M118.46,333.3 L121.87,332.04 L125.28,331.51 L128.69,331.1 L132.1,330.75 L135.51,330.43 L138.92,330.14 L142.33,329.87 L145.74,329.61 L149.15,329.37 L152.56,329.13 L155.98,328.9 L159.39,328.68 L162.8,328.46 L166.21,328.24 L169.62,328.03 L173.03,327.82 L176.44,327.61 L179.85,327.4 L183.26,327.19 L186.67,326.98 L190.08,326.77 L193.49,326.56 L196.9,326.35 L200.31,326.13 L203.72,325.9 L207.14,325.67 L210.55,325.44 L213.96,325.19 L217.37,324.93 L220.78,324.66 L224.19,324.37 L227.6,324.06 L231.01,323.7 L234.42,323.29 L237.83,322.76 L241.24,321.5 M118.46,336.7 L121.87,335.44 L125.28,334.91 L128.69,334.5 L132.1,334.15 L135.51,333.83 L138.92,333.54 L142.33,333.27 L145.74,333.01 L149.15,332.77 L152.56,332.53 L155.98,332.3 L159.39,332.08 L162.8,331.86 L166.21,331.64 L169.62,331.43 L173.03,331.22 L176.44,331.01 L179.85,330.8 L183.26,330.59 L186.67,330.38 L190.08,330.17 L193.49,329.96 L196.9,329.75 L200.31,329.53 L203.72,329.3 L207.14,329.07 L210.55,328.84 L213.96,328.59 L217.37,328.33 L220.78,328.06 L224.19,327.77 L227.6,327.46 L231.01,327.1 L234.42,326.69 L237.83,326.16 L241.24,324.9 M118.46,353.21 L121.87,351.95 L125.28,351.42 L128.69,351.01 L132.1,350.66 L135.51,350.34 L138.92,350.05 L142.33,349.78 L145.74,349.52 L149.15,349.28 L152.56,349.04 L155.98,348.81 L159.39,348.59 L162.8,348.37 L166.21,348.15 L169.62,347.94 L173.03,347.73 L176.44,347.52 L179.85,347.31 L183.26,347.1 L186.67,346.89 L190.08,346.68 L193.49,346.47 L196.9,346.26 L200.31,346.04 L203.72,345.81 L207.14,345.58 L210.55,345.35 L213.96,345.1 L217.37,344.84 L220.78,344.57 L224.19,344.28 L227.6,343.97 L231.01,343.61 L234.42,343.2 L237.83,342.67 L241.24,341.41 M118.46,356.61 L121.87,355.35 L125.28,354.82 L128.69,354.41 L132.1,354.06 L135.51,353.74 L138.92,353.45 L142.33,353.18 L145.74,352.92 L149.15,352.68 L152.56,352.44 L155.98,352.21 L159.39,351.99 L162.8,351.77 L166.21,351.55 L169.62,351.34 L173.03,351.13 L176.44,350.92 L179.85,350.71 L183.26,350.5 L186.67,350.29 L190.08,350.08 L193.49,349.87 L196.9,349.66 L200.31,349.44 L203.72,349.21 L207.14,348.98 L210.55,348.75 L213.96,348.5 L217.37,348.24 L220.78,347.97 L224.19,347.68 L227.6,347.37 L231.01,347.01 L234.42,346.6 L237.83,346.07 L241.24,344.81 M118.46,373.12 L121.87,371.86 L125.28,371.33 L128.69,370.92 L132.1,370.57 L135.51,370.25 L138.92,369.96 L142.33,369.69 L145.74,369.43 L149.15,369.19 L152.56,368.95 L155.98,368.72 L159.39,368.5 L162.8,368.28 L166.21,368.06 L169.62,367.85 L173.03,367.64 L176.44,367.43 L179.85,367.22 L183.26,367.01 L186.67,366.8 L190.08,366.59 L193.49,366.38 L196.9,366.17 L200.31,365.95 L203.72,365.72 L207.14,365.49 L210.55,365.26 L213.96,365.01 L217.37,364.75 L220.78,364.48 L224.19,364.19 L227.6,363.88 L231.01,363.52 L234.42,363.11 L237.83,362.58 L241.24,361.32 M118.46,376.52 L121.87,375.26 L125.28,374.73 L128.69,374.32 L132.1,373.97 L135.51,373.65 L138.92,373.36 L142.33,373.09 L145.74,372.83 L149.15,372.59 L152.56,372.35 L155.98,372.12 L159.39,371.9 L162.8,371.68 L166.21,371.46 L169.62,371.25 L173.03,371.04 L176.44,370.83 L179.85,370.62 L183.26,370.41 L186.67,370.2 L190.08,369.99 L193.49,369.78 L196.9,369.57 L200.31,369.35 L203.72,369.12 L207.14,368.89 L210.55,368.66 L213.96,368.41 L217.37,368.15 L220.78,367.88 L224.19,367.59 L227.6,367.28 L231.01,366.92 L234.42,366.51 L237.83,365.98 L241.24,364.72 M118.46,393.03 L121.87,391.77 L125.28,391.24 L128.69,390.83 L132.1,390.48 L135.51,390.16 L138.92,389.87 L142.33,389.6 L145.74,389.34 L149.15,389.1 L152.56,388.86 L155.98,388.63 L159.39,388.41 L162.8,388.19 L166.21,387.97 L169.62,387.76 L173.03,387.55 L176.44,387.34 L179.85,387.13 L183.26,386.92 L186.67,386.71 L190.08,386.5 L193.49,386.29 L196.9,386.08 L200.31,385.86 L203.72,385.63 L207.14,385.4 L210.55,385.17 L213.96,384.92 L217.37,384.66 L220.78,384.39 L224.19,384.1 L227.6,383.79 L231.01,383.43 L234.42,383.02 L237.83,382.49 L241.24,381.23 M118.46,396.43 L121.87,395.17 L125.28,394.64 L128.69,394.23 L132.1,393.88 L135.51,393.56 L138.92,393.27 L142.33,393 L145.74,392.74 L149.15,392.5 L152.56,392.26 L155.98,392.03 L159.39,391.81 L162.8,391.59 L166.21,391.37 L169.62,391.16 L173.03,390.95 L176.44,390.74 L179.85,390.53 L183.26,390.32 L186.67,390.11 L190.08,389.9 L193.49,389.69 L196.9,389.48 L200.31,389.26 L203.72,389.03 L207.14,388.8 L210.55,388.57 L213.96,388.32 L217.37,388.06 L220.78,387.79 L224.19,387.5 L227.6,387.19 L231.01,386.83 L234.42,386.42 L237.83,385.89 L241.24,384.63 M118.46,412.94 L121.87,411.68 L125.28,411.15 L128.69,410.74 L132.1,410.39 L135.51,410.07 L138.92,409.78 L142.33,409.51 L145.74,409.25 L149.15,409.01 L152.56,408.77 L155.98,408.54 L159.39,408.32 L162.8,408.1 L166.21,407.88 L169.62,407.67 L173.03,407.46 L176.44,407.25 L179.85,407.04 L183.26,406.83 L186.67,406.62 L190.08,406.41 L193.49,406.2 L196.9,405.99 L200.31,405.77 L203.72,405.54 L207.14,405.31 L210.55,405.08 L213.96,404.83 L217.37,404.57 L220.78,404.3 L224.19,404.01 L227.6,403.7 L231.01,403.34 L234.42,402.93 L237.83,402.4 L241.24,401.14 M118.46,416.34 L121.87,415.08 L125.28,414.55 L128.69,414.14 L132.1,413.79 L135.51,413.47 L138.92,413.18 L142.33,412.91 L145.74,412.65 L149.15,412.41 L152.56,412.17 L155.98,411.94 L159.39,411.72 L162.8,411.5 L166.21,411.28 L169.62,411.07 L173.03,410.86 L176.44,410.65 L179.85,410.44 L183.26,410.23 L186.67,410.02 L190.08,409.81 L193.49,409.6 L196.9,409.39 L200.31,409.17 L203.72,408.94 L207.14,408.71 L210.55,408.48 L213.96,408.23 L217.37,407.97 L220.78,407.7 L224.19,407.41 L227.6,407.1 L231.01,406.74 L234.42,406.33 L237.83,405.8 L241.24,404.54 M118.46,432.85 L121.87,431.59 L125.28,431.06 L128.69,430.65 L132.1,430.3 L135.51,429.98 L138.92,429.69 L142.33,429.42 L145.74,429.16 L149.15,428.92 L152.56,428.68 L155.98,428.45 L159.39,428.23 L162.8,428.01 L166.21,427.79 L169.62,427.58 L173.03,427.37 L176.44,427.16 L179.85,426.95 L183.26,426.74 L186.67,426.53 L190.08,426.32 L193.49,426.11 L196.9,425.9 L200.31,425.68 L203.72,425.45 L207.14,425.22 L210.55,424.99 L213.96,424.74 L217.37,424.48 L220.78,424.21 L224.19,423.92 L227.6,423.61 L231.01,423.25 L234.42,422.84 L237.83,422.31 L241.24,421.05 M118.46,436.25 L121.87,434.99 L125.28,434.46 L128.69,434.05 L132.1,433.7 L135.51,433.38 L138.92,433.09 L142.33,432.82 L145.74,432.56 L149.15,432.32 L152.56,432.08 L155.98,431.85 L159.39,431.63 L162.8,431.41 L166.21,431.19 L169.62,430.98 L173.03,430.77 L176.44,430.56 L179.85,430.35 L183.26,430.14 L186.67,429.93 L190.08,429.72 L193.49,429.51 L196.9,429.3 L200.31,429.08 L203.72,428.85 L207.14,428.62 L210.55,428.39 L213.96,428.14 L217.37,427.88 L220.78,427.61 L224.19,427.32 L227.6,427.01 L231.01,426.65 L234.42,426.24 L237.83,425.71 L241.24,424.45 M118.46,452.76 L121.87,451.5 L125.28,450.97 L128.69,450.56 L132.1,450.21 L135.51,449.89 L138.92,449.6 L142.33,449.33 L145.74,449.07 L149.15,448.83 L152.56,448.59 L155.98,448.36 L159.39,448.14 L162.8,447.92 L166.21,447.7 L169.62,447.49 L173.03,447.28 L176.44,447.07 L179.85,446.86 L183.26,446.65 L186.67,446.44 L190.08,446.23 L193.49,446.02 L196.9,445.81 L200.31,445.59 L203.72,445.36 L207.14,445.13 L210.55,444.9 L213.96,444.65 L217.37,444.39 L220.78,444.12 L224.19,443.83 L227.6,443.52 L231.01,443.16 L234.42,442.75 L237.83,442.22 L241.24,440.96 M118.46,456.16 L121.87,454.9 L125.28,454.37 L128.69,453.96 L132.1,453.61 L135.51,453.29 L138.92,453 L142.33,452.73 L145.74,452.47 L149.15,452.23 L152.56,451.99 L155.98,451.76 L159.39,451.54 L162.8,451.32 L166.21,451.1 L169.62,450.89 L173.03,450.68 L176.44,450.47 L179.85,450.26 L183.26,450.05 L186.67,449.84 L190.08,449.63 L193.49,449.42 L196.9,449.21 L200.31,448.99 L203.72,448.76 L207.14,448.53 L210.55,448.3 L213.96,448.05 L217.37,447.79 L220.78,447.52 L224.19,447.23 L227.6,446.92 L231.01,446.56 L234.42,446.15 L237.83,445.62 L241.24,444.36 M118.46,472.67 L121.87,471.41 L125.28,470.88 L128.69,470.47 L132.1,470.12 L135.51,469.8 L138.92,469.51 L142.33,469.24 L145.74,468.98 L149.15,468.74 L152.56,468.5 L155.98,468.27 L159.39,468.05 L162.8,467.83 L166.21,467.61 L169.62,467.4 L173.03,467.19 L176.44,466.98 L179.85,466.77 L183.26,466.56 L186.67,466.35 L190.08,466.14 L193.49,465.93 L196.9,465.72 L200.31,465.5 L203.72,465.27 L207.14,465.04 L210.55,464.81 L213.96,464.56 L217.37,464.3 L220.78,464.03 L224.19,463.74 L227.6,463.43 L231.01,463.07 L234.42,462.66 L237.83,462.13 L241.24,460.87 M118.46,476.07 L121.87,474.81 L125.28,474.28 L128.69,473.87 L132.1,473.52 L135.51,473.2 L138.92,472.91 L142.33,472.64 L145.74,472.38 L149.15,472.14 L152.56,471.9 L155.98,471.67 L159.39,471.45 L162.8,471.23 L166.21,471.01 L169.62,470.8 L173.03,470.59 L176.44,470.38 L179.85,470.17 L183.26,469.96 L186.67,469.75 L190.08,469.54 L193.49,469.33 L196.9,469.12 L200.31,468.9 L203.72,468.67 L207.14,468.44 L210.55,468.21 L213.96,467.96 L217.37,467.7 L220.78,467.43 L224.19,467.14 L227.6,466.83 L231.01,466.47 L234.42,466.06 L237.83,465.53 L241.24,464.27 M118.46,492.58 L121.87,491.32 L125.28,490.79 L128.69,490.38 L132.1,490.03 L135.51,489.71 L138.92,489.42 L142.33,489.15 L145.74,488.89 L149.15,488.65 L152.56,488.41 L155.98,488.18 L159.39,487.96 L162.8,487.74 L166.21,487.52 L169.62,487.31 L173.03,487.1 L176.44,486.89 L179.85,486.68 L183.26,486.47 L186.67,486.26 L190.08,486.05 L193.49,485.84 L196.9,485.63 L200.31,485.41 L203.72,485.18 L207.14,484.95 L210.55,484.72 L213.96,484.47 L217.37,484.21 L220.78,483.94 L224.19,483.65 L227.6,483.34 L231.01,482.98 L234.42,482.57 L237.83,482.04 L241.24,480.78 M118.46,495.98 L121.87,494.72 L125.28,494.19 L128.69,493.78 L132.1,493.43 L135.51,493.11 L138.92,492.82 L142.33,492.55 L145.74,492.29 L149.15,492.05 L152.56,491.81 L155.98,491.58 L159.39,491.36 L162.8,491.14 L166.21,490.92 L169.62,490.71 L173.03,490.5 L176.44,490.29 L179.85,490.08 L183.26,489.87 L186.67,489.66 L190.08,489.45 L193.49,489.24 L196.9,489.03 L200.31,488.81 L203.72,488.58 L207.14,488.35 L210.55,488.12 L213.96,487.87 L217.37,487.61 L220.78,487.34 L224.19,487.05 L227.6,486.74 L231.01,486.38 L234.42,485.97 L237.83,485.44 L241.24,484.18 M118.46,512.49 L121.87,511.23 L125.28,510.7 L128.69,510.29 L132.1,509.94 L135.51,509.62 L138.92,509.33 L142.33,509.06 L145.74,508.8 L149.15,508.56 L152.56,508.32 L155.98,508.09 L159.39,507.87 L162.8,507.65 L166.21,507.43 L169.62,507.22 L173.03,507.01 L176.44,506.8 L179.85,506.59 L183.26,506.38 L186.67,506.17 L190.08,505.96 L193.49,505.75 L196.9,505.54 L200.31,505.32 L203.72,505.09 L207.14,504.86 L210.55,504.63 L213.96,504.38 L217.37,504.12 L220.78,503.85 L224.19,503.56 L227.6,503.25 L231.01,502.89 L234.42,502.48 L237.83,501.95 L241.24,500.69 M118.46,515.89 L121.87,514.63 L125.28,514.1 L128.69,513.69 L132.1,513.34 L135.51,513.02 L138.92,512.73 L142.33,512.46 L145.74,512.2 L149.15,511.96 L152.56,511.72 L155.98,511.49 L159.39,511.27 L162.8,511.05 L166.21,510.83 L169.62,510.62 L173.03,510.41 L176.44,510.2 L179.85,509.99 L183.26,509.78 L186.67,509.57 L190.08,509.36 L193.49,509.15 L196.9,508.94 L200.31,508.72 L203.72,508.49 L207.14,508.26 L210.55,508.03 L213.96,507.78 L217.37,507.52 L220.78,507.25 L224.19,506.96 L227.6,506.65 L231.01,506.29 L234.42,505.88 L237.83,505.35 L241.24,504.09 M118.46,532.4 L121.87,531.14 L125.28,530.61 L128.69,530.2 L132.1,529.85 L135.51,529.53 L138.92,529.24 L142.33,528.97 L145.74,528.71 L149.15,528.47 L152.56,528.23 L155.98,528 L159.39,527.78 L162.8,527.56 L166.21,527.34 L169.62,527.13 L173.03,526.92 L176.44,526.71 L179.85,526.5 L183.26,526.29 L186.67,526.08 L190.08,525.87 L193.49,525.66 L196.9,525.45 L200.31,525.23 L203.72,525 L207.14,524.77 L210.55,524.54 L213.96,524.29 L217.37,524.03 L220.78,523.76 L224.19,523.47 L227.6,523.16 L231.01,522.8 L234.42,522.39 L237.83,521.86 L241.24,520.6 M118.46,535.8 L121.87,534.54 L125.28,534.01 L128.69,533.6 L132.1,533.25 L135.51,532.93 L138.92,532.64 L142.33,532.37 L145.74,532.11 L149.15,531.87 L152.56,531.63 L155.98,531.4 L159.39,531.18 L162.8,530.96 L166.21,530.74 L169.62,530.53 L173.03,530.32 L176.44,530.11 L179.85,529.9 L183.26,529.69 L186.67,529.48 L190.08,529.27 L193.49,529.06 L196.9,528.85 L200.31,528.63 L203.72,528.4 L207.14,528.17 L210.55,527.94 L213.96,527.69 L217.37,527.43 L220.78,527.16 L224.19,526.87 L227.6,526.56 L231.01,526.2 L234.42,525.79 L237.83,525.26 L241.24,524 M118.46,552.31 L121.87,551.05 L125.28,550.52 L128.69,550.11 L132.1,549.76 L135.51,549.44 L138.92,549.15 L142.33,548.88 L145.74,548.62 L149.15,548.38 L152.56,548.14 L155.98,547.91 L159.39,547.69 L162.8,547.47 L166.21,547.25 L169.62,547.04 L173.03,546.83 L176.44,546.62 L179.85,546.41 L183.26,546.2 L186.67,545.99 L190.08,545.78 L193.49,545.57 L196.9,545.36 L200.31,545.14 L203.72,544.91 L207.14,544.68 L210.55,544.45 L213.96,544.2 L217.37,543.94 L220.78,543.67 L224.19,543.38 L227.6,543.07 L231.01,542.71 L234.42,542.3 L237.83,541.77 L241.24,540.51 M118.46,555.71 L121.87,554.45 L125.28,553.92 L128.69,553.51 L132.1,553.16 L135.51,552.84 L138.92,552.55 L142.33,552.28 L145.74,552.02 L149.15,551.78 L152.56,551.54 L155.98,551.31 L159.39,551.09 L162.8,550.87 L166.21,550.65 L169.62,550.44 L173.03,550.23 L176.44,550.02 L179.85,549.81 L183.26,549.6 L186.67,549.39 L190.08,549.18 L193.49,548.97 L196.9,548.76 L200.31,548.54 L203.72,548.31 L207.14,548.08 L210.55,547.85 L213.96,547.6 L217.37,547.34 L220.78,547.07 L224.19,546.78 L227.6,546.47 L231.01,546.11 L234.42,545.7 L237.83,545.17 L241.24,543.91 M118.46,572.22 L121.87,570.96 L125.28,570.43 L128.69,570.02 L132.1,569.67 L135.51,569.35 L138.92,569.06 L142.33,568.79 L145.74,568.53 L149.15,568.29 L152.56,568.05 L155.98,567.82 L159.39,567.6 L162.8,567.38 L166.21,567.16 L169.62,566.95 L173.03,566.74 L176.44,566.53 L179.85,566.32 L183.26,566.11 L186.67,565.9 L190.08,565.69 L193.49,565.48 L196.9,565.27 L200.31,565.05 L203.72,564.82 L207.14,564.59 L210.55,564.36 L213.96,564.11 L217.37,563.85 L220.78,563.58 L224.19,563.29 L227.6,562.98 L231.01,562.62 L234.42,562.21 L237.83,561.68 L241.24,560.42 M118.46,575.62 L121.87,574.36 L125.28,573.83 L128.69,573.42 L132.1,573.07 L135.51,572.75 L138.92,572.46 L142.33,572.19 L145.74,571.93 L149.15,571.69 L152.56,571.45 L155.98,571.22 L159.39,571 L162.8,570.78 L166.21,570.56 L169.62,570.35 L173.03,570.14 L176.44,569.93 L179.85,569.72 L183.26,569.51 L186.67,569.3 L190.08,569.09 L193.49,568.88 L196.9,568.67 L200.31,568.45 L203.72,568.22 L207.14,567.99 L210.55,567.76 L213.96,567.51 L217.37,567.25 L220.78,566.98 L224.19,566.69 L227.6,566.38 L231.01,566.02 L234.42,565.61 L237.83,565.08 L241.24,563.82 M118.46,592.13 L121.87,590.87 L125.28,590.34 L128.69,589.93 L132.1,589.58 L135.51,589.26 L138.92,588.97 L142.33,588.7 L145.74,588.44 L149.15,588.2 L152.56,587.96 L155.98,587.73 L159.39,587.51 L162.8,587.29 L166.21,587.07 L169.62,586.86 L173.03,586.65 L176.44,586.44 L179.85,586.23 L183.26,586.02 L186.67,585.81 L190.08,585.6 L193.49,585.39 L196.9,585.18 L200.31,584.96 L203.72,584.73 L207.14,584.5 L210.55,584.27 L213.96,584.02 L217.37,583.76 L220.78,583.49 L224.19,583.2 L227.6,582.89 L231.01,582.53 L234.42,582.12 L237.83,581.59 L241.24,580.33 M118.46,595.53 L121.87,594.27 L125.28,593.74 L128.69,593.33 L132.1,592.98 L135.51,592.66 L138.92,592.37 L142.33,592.1 L145.74,591.84 L149.15,591.6 L152.56,591.36 L155.98,591.13 L159.39,590.91 L162.8,590.69 L166.21,590.47 L169.62,590.26 L173.03,590.05 L176.44,589.84 L179.85,589.63 L183.26,589.42 L186.67,589.21 L190.08,589 L193.49,588.79 L196.9,588.58 L200.31,588.36 L203.72,588.13 L207.14,587.9 L210.55,587.67 L213.96,587.42 L217.37,587.16 L220.78,586.89 L224.19,586.6 L227.6,586.29 L231.01,585.93 L234.42,585.52 L237.83,584.99 L241.24,583.73 M125.67,607.94 L128.87,607.2 L132.08,606.9 L135.28,606.66 L138.49,606.45 L141.69,606.27 L144.9,606.1 L148.1,605.94 L151.31,605.79 L154.51,605.65 L157.71,605.51 L160.92,605.37 L164.12,605.24 L167.33,605.12 L170.53,604.99 L173.74,604.87 L176.94,604.74 L180.15,604.62 L183.35,604.5 L186.55,604.38 L189.76,604.26 L192.96,604.13 L196.17,604.01 L199.37,603.88 L202.58,603.76 L205.78,603.63 L208.99,603.49 L212.19,603.35 L215.39,603.21 L218.6,603.06 L221.8,602.9 L225.01,602.73 L228.21,602.55 L231.42,602.34 L234.62,602.1 L237.83,601.8 L241.03,601.06" stroke="#2a2a2a" stroke-width="1.45" fill="none"/>
</g>
<g stroke="#2a2a2a" stroke-width="1.7" fill="none" stroke-linejoin="round">
<path d="M129,167.3 L123.82,170.87 Q121.6,172.4 121,173 L119.84,174.16 Q119.6,174.4 121.36,175.59 L129.89,181.37 Q134.3,184.36 129.89,187.34 L121.36,193.12 Q119.6,194.31 121.36,195.5 L129.89,201.28 Q134.3,204.27 129.89,207.25 L121.36,213.03 Q119.6,214.22 121.36,215.41 L129.89,221.19 Q134.3,224.18 129.89,227.16 L121.36,232.94 Q119.6,234.13 121.36,235.32 L129.89,241.1 Q134.3,244.09 129.89,247.07 L121.36,252.85 Q119.6,254.04 121.36,255.23 L129.89,261.01 Q134.3,264 129.89,266.98 L121.36,272.76 Q119.6,273.95 121.36,275.14 L129.89,280.92 Q134.3,283.9 129.89,286.89 L121.36,292.67 Q119.6,293.86 121.36,295.05 L129.89,300.83 Q134.3,303.81 129.89,306.8 L121.36,312.58 Q119.6,313.77 121.36,314.96 L129.89,320.74 Q134.3,323.72 129.89,326.71 L121.36,332.49 Q119.6,333.68 121.36,334.87 L129.89,340.65 Q134.3,343.63 129.89,346.62 L121.36,352.4 Q119.6,353.59 121.36,354.78 L129.89,360.56 Q134.3,363.55 129.89,366.53 L121.36,372.31 Q119.6,373.5 121.36,374.69 L129.89,380.47 Q134.3,383.45 129.89,386.44 L121.36,392.22 Q119.6,393.41 121.36,394.6 L129.89,400.38 Q134.3,403.36 129.89,406.35 L121.36,412.13 Q119.6,413.32 121.36,414.51 L129.89,420.29 Q134.3,423.28 129.89,426.26 L121.36,432.04 Q119.6,433.23 121.36,434.42 L129.89,440.2 Q134.3,443.19 129.89,446.17 L121.36,451.95 Q119.6,453.14 121.36,454.33 L129.89,460.11 Q134.3,463.09 129.89,466.08 L121.36,471.86 Q119.6,473.05 121.36,474.24 L129.89,480.02 Q134.3,483 129.89,485.99 L121.36,491.77 Q119.6,492.96 121.36,494.15 L129.89,499.93 Q134.3,502.92 129.89,505.9 L121.36,511.68 Q119.6,512.87 121.36,514.06 L129.89,519.84 Q134.3,522.83 129.89,525.81 L121.36,531.59 Q119.6,532.78 121.36,533.97 L129.89,539.75 Q134.3,542.74 129.89,545.72 L121.36,551.5 Q119.6,552.69 121.36,553.88 L129.89,559.66 Q134.3,562.65 129.89,565.63 L121.36,571.41 Q119.6,572.6 121.36,573.79 L129.89,579.57 Q134.3,582.56 129.89,585.54 L121.36,591.32 Q119.6,592.51 121.36,593.7 L129.89,599.48 Q134.3,602.47 132.23,603.86 L129.12,605.94 Q127.4,607.1 128.38,608.58 L131.3,613"/>
<path d="M234.6,161.1 L236.14,165.3 Q236.8,167.1 233.56,169.29 L229.24,172.21 Q226,174.4 230.23,177.39 L238.41,183.16 Q240.1,184.36 238.41,185.55 L230.23,191.32 Q226,194.31 230.23,197.3 L238.41,203.07 Q240.1,204.27 238.41,205.46 L230.23,211.23 Q226,214.22 230.23,217.21 L238.41,222.98 Q240.1,224.18 238.41,225.37 L230.23,231.14 Q226,234.13 230.23,237.12 L238.41,242.89 Q240.1,244.09 238.41,245.28 L230.23,251.05 Q226,254.04 230.23,257.03 L238.41,262.8 Q240.1,264 238.41,265.19 L230.23,270.96 Q226,273.95 230.23,276.94 L238.41,282.71 Q240.1,283.9 238.41,285.1 L230.23,290.87 Q226,293.86 230.23,296.85 L238.41,302.62 Q240.1,303.81 238.41,305.01 L230.23,310.78 Q226,313.77 230.23,316.76 L238.41,322.53 Q240.1,323.72 238.41,324.92 L230.23,330.69 Q226,333.68 230.23,336.67 L238.41,342.44 Q240.1,343.63 238.41,344.83 L230.23,350.6 Q226,353.59 230.23,356.58 L238.41,362.35 Q240.1,363.55 238.41,364.74 L230.23,370.51 Q226,373.5 230.23,376.49 L238.41,382.26 Q240.1,383.45 238.41,384.65 L230.23,390.42 Q226,393.41 230.23,396.4 L238.41,402.17 Q240.1,403.36 238.41,404.56 L230.23,410.33 Q226,413.32 230.23,416.31 L238.41,422.08 Q240.1,423.28 238.41,424.47 L230.23,430.24 Q226,433.23 230.23,436.22 L238.41,441.99 Q240.1,443.19 238.41,444.38 L230.23,450.15 Q226,453.14 230.23,456.13 L238.41,461.9 Q240.1,463.09 238.41,464.29 L230.23,470.06 Q226,473.05 230.23,476.04 L238.41,481.81 Q240.1,483 238.41,484.2 L230.23,489.97 Q226,492.96 230.23,495.95 L238.41,501.72 Q240.1,502.92 238.41,504.11 L230.23,509.88 Q226,512.87 230.23,515.86 L238.41,521.63 Q240.1,522.83 238.41,524.02 L230.23,529.79 Q226,532.78 230.23,535.77 L238.41,541.54 Q240.1,542.74 238.41,543.93 L230.23,549.7 Q226,552.69 230.23,555.68 L238.41,561.45 Q240.1,562.65 238.41,563.84 L230.23,569.61 Q226,572.6 230.23,575.59 L238.41,581.36 Q240.1,582.56 238.41,583.75 L230.23,589.52 Q226,592.51 229.99,595.15 L237.31,599.98 Q239.3,601.3 237.16,603.05 L225,613"/>
<line x1="131.3" y1="613.0" x2="225" y2="613.0"/>
<path d="M128.95,167.09 L131.88,166.41 L134.82,166.12 L137.76,165.9 L140.69,165.71 L143.63,165.54 L146.56,165.38 L149.5,165.24 L152.44,165.1 L155.37,164.96 L158.31,164.84 L161.25,164.71 L164.18,164.59 L167.12,164.47 L170.05,164.36 L172.99,164.24 L175.93,164.13 L178.86,164.01 L181.8,163.9 L184.74,163.79 L187.67,163.67 L190.61,163.56 L193.55,163.44 L196.48,163.33 L199.42,163.21 L202.35,163.09 L205.29,162.96 L208.23,162.84 L211.16,162.7 L214.1,162.56 L217.04,162.42 L219.97,162.26 L222.91,162.09 L225.84,161.9 L228.78,161.68 L231.72,161.39 L234.65,160.71 M128.95,169.19 L131.88,168.51 L134.82,168.22 L137.76,168 L140.69,167.81 L143.63,167.64 L146.56,167.48 L149.5,167.34 L152.44,167.2 L155.37,167.06 L158.31,166.94 L161.25,166.81 L164.18,166.69 L167.12,166.57 L170.05,166.46 L172.99,166.34 L175.93,166.23 L178.86,166.11 L181.8,166 L184.74,165.89 L187.67,165.77 L190.61,165.66 L193.55,165.54 L196.48,165.43 L199.42,165.31 L202.35,165.19 L205.29,165.06 L208.23,164.94 L211.16,164.8 L214.1,164.66 L217.04,164.52 L219.97,164.36 L222.91,164.19 L225.84,164 L228.78,163.78 L231.72,163.49 L234.65,162.81" stroke-width="1.3"/>
</g>
<g stroke="#8a8a8a" stroke-width="1.1" fill="none">
<line x1="41" y1="41" x2="156.4" y2="41"/>
<line x1="202" y1="41" x2="239.7" y2="41"/>
<line x1="297.9" y1="41" x2="321" y2="41"/>
<line x1="40.4" y1="41" x2="40.4" y2="98.6"/>
<line x1="320.3" y1="41" x2="320.3" y2="98.6"/>
<line x1="133.1" y1="41" x2="133.1" y2="66.5"/>
<line x1="226.4" y1="41" x2="226.4" y2="66.5"/>
<line x1="233.6" y1="67" x2="380" y2="67"/>
<line x1="323.6" y1="135.4" x2="380" y2="135.4"/>
<line x1="379.4" y1="67" x2="379.4" y2="612.9"/>
<line x1="235.7" y1="612.9" x2="380" y2="612.9"/>
<line x1="118.3" y1="613.6" x2="118.3" y2="670.7"/>
<line x1="240" y1="615.4" x2="240" y2="670.7"/>
<line x1="118.3" y1="670.7" x2="240" y2="670.7"/>
<line x1="429.4" y1="401.1" x2="636.2" y2="401.1"/>
<line x1="431.6" y1="401.1" x2="431.6" y2="492"/>
<line x1="636.2" y1="401.1" x2="636.2" y2="492"/>
<line x1="506.2" y1="538" x2="506.2" y2="669.4"/>
<line x1="563.3" y1="538" x2="563.3" y2="669.4"/>
<line x1="506.2" y1="669.4" x2="563.3" y2="669.4"/>
<line x1="506.2" y1="696" x2="506.2" y2="700"/>
<line x1="563.3" y1="696" x2="563.3" y2="700"/>
</g>
<g fill="#141414">
<polygon points="40.4,41 53.4,38.8 53.4,43.2"/>
<polygon points="321,41 308,38.8 308,43.2"/>
<polygon points="40.4,98.6 38.2,85.6 42.6,85.6"/>
<polygon points="320.3,98.6 318.1,85.6 322.5,85.6"/>
<polygon points="133.1,66.5 130.9,53.5 135.3,53.5"/>
<polygon points="226.4,66.5 224.2,53.5 228.6,53.5"/>
<polygon points="233.6,67 246.6,64.8 246.6,69.2"/>
<polygon points="323.6,135.4 336.6,133.2 336.6,137.6"/>
<polygon points="379.4,67 377.2,80 381.6,80"/>
<polygon points="379.4,135 377.2,122 381.6,122"/>
<polygon points="379.4,135.8 377.2,148.8 381.6,148.8"/>
<polygon points="379.4,612.5 377.2,599.5 381.6,599.5"/>
<polygon points="235.7,612.9 248.7,610.7 248.7,615.1"/>
<polygon points="118.3,613.6 116.1,626.6 120.5,626.6"/>
<polygon points="240,615.4 237.8,628.4 242.2,628.4"/>
<polygon points="119.5,670.7 132.5,668.5 132.5,672.9"/>
<polygon points="240,670.7 227,668.5 227,672.9"/>
<polygon points="429.4,401.1 442.4,398.9 442.4,403.3"/>
<polygon points="636.2,401.1 623.2,398.9 623.2,403.3"/>
<polygon points="431.6,492 429.4,479 433.8,479"/>
<polygon points="636.2,492 634,479 638.4,479"/>
<polygon points="506.2,538 504,551 508.4,551"/>
<polygon points="563.3,538 561.1,551 565.5,551"/>
<polygon points="504.2,669.4 517.2,667.2 517.2,671.6"/>
<polygon points="563.3,669.4 550.3,667.2 550.3,671.6"/>
</g>
<g stroke="#2a2a2a" stroke-width="1.6" fill="none">
<circle cx="534.1" cy="517.05" r="100.3"/>
<circle cx="534" cy="517.05" r="75.9"/>
<circle cx="534.3" cy="517.1" r="33.4"/>
<polygon points="534.3,484.25 562.71,500.65 562.71,533.45 534.3,549.85 505.89,533.45 505.89,500.65"/>
</g>
<g font-family="Liberation Sans, sans-serif" fill="#111" stroke="#111">
<text x="162.46" y="50.04" font-size="33.9" stroke-width="0" textLength="34.33" lengthAdjust="spacingAndGlyphs">SS</text>
<text x="244.99" y="50.32" font-size="33.9" stroke-width="0" textLength="46.86" lengthAdjust="spacingAndGlyphs">HD</text>
<text x="329.09" y="112.4" font-size="33.9" stroke-width="0" textLength="47.87" lengthAdjust="spacingAndGlyphs">HH</text>
<text x="358.5" y="379.66" font-size="33.9" stroke-width="0" textLength="17.23" lengthAdjust="spacingAndGlyphs">L</text>
<text x="156.32" y="661.56" font-size="33.9" stroke-width="0" textLength="42.84" lengthAdjust="spacingAndGlyphs">TD</text>
<text x="509.43" y="393.26" font-size="33.9" stroke-width="0" textLength="48.33" lengthAdjust="spacingAndGlyphs">HD</text>
<text x="516.34" y="662.14" font-size="33.9" stroke-width="0" textLength="35.06" lengthAdjust="spacingAndGlyphs">SS</text>
<text x="419.35" y="53.44" font-size="34.9" font-weight="bold" stroke-width="0.5" textLength="232.41" lengthAdjust="spacingAndGlyphs">Specification:</text>
<text x="419.06" y="96.95" font-size="27.6" font-weight="bold" stroke-width="0.6" textLength="46.93" lengthAdjust="spacingAndGlyphs">TD:</text>
<text x="471.82" y="97.21" font-size="27.3" stroke-width="0.3" textLength="68.18" lengthAdjust="spacingAndGlyphs">5mm</text>
<text x="418.11" y="141.63" font-size="27.6" font-weight="bold" stroke-width="0.6" textLength="24.94" lengthAdjust="spacingAndGlyphs">L:</text>
<text x="450.15" y="141.93" font-size="27.3" stroke-width="0.3" textLength="79.79" lengthAdjust="spacingAndGlyphs">45mm</text>
<text x="419" y="185.34" font-size="27.6" font-weight="bold" stroke-width="0.6" textLength="42.83" lengthAdjust="spacingAndGlyphs">SS:</text>
<text x="467.85" y="185.46" font-size="27.3" stroke-width="0.3" textLength="67.95" lengthAdjust="spacingAndGlyphs">3mm</text>
<text x="418.59" y="228.55" font-size="27.6" font-weight="bold" stroke-width="0.6" textLength="51.56" lengthAdjust="spacingAndGlyphs">HD:</text>
<text x="477.34" y="228.57" font-size="27.3" stroke-width="0.3" textLength="104.73" lengthAdjust="spacingAndGlyphs">11.6mm</text>
<text x="418.64" y="271.95" font-size="27.6" font-weight="bold" stroke-width="0.6" textLength="48.93" lengthAdjust="spacingAndGlyphs">HH:</text>
<text x="471.81" y="272.29" font-size="27.3" stroke-width="0.3" textLength="86.37" lengthAdjust="spacingAndGlyphs">2.8mm</text>
</g>
</svg>
</body></html>
